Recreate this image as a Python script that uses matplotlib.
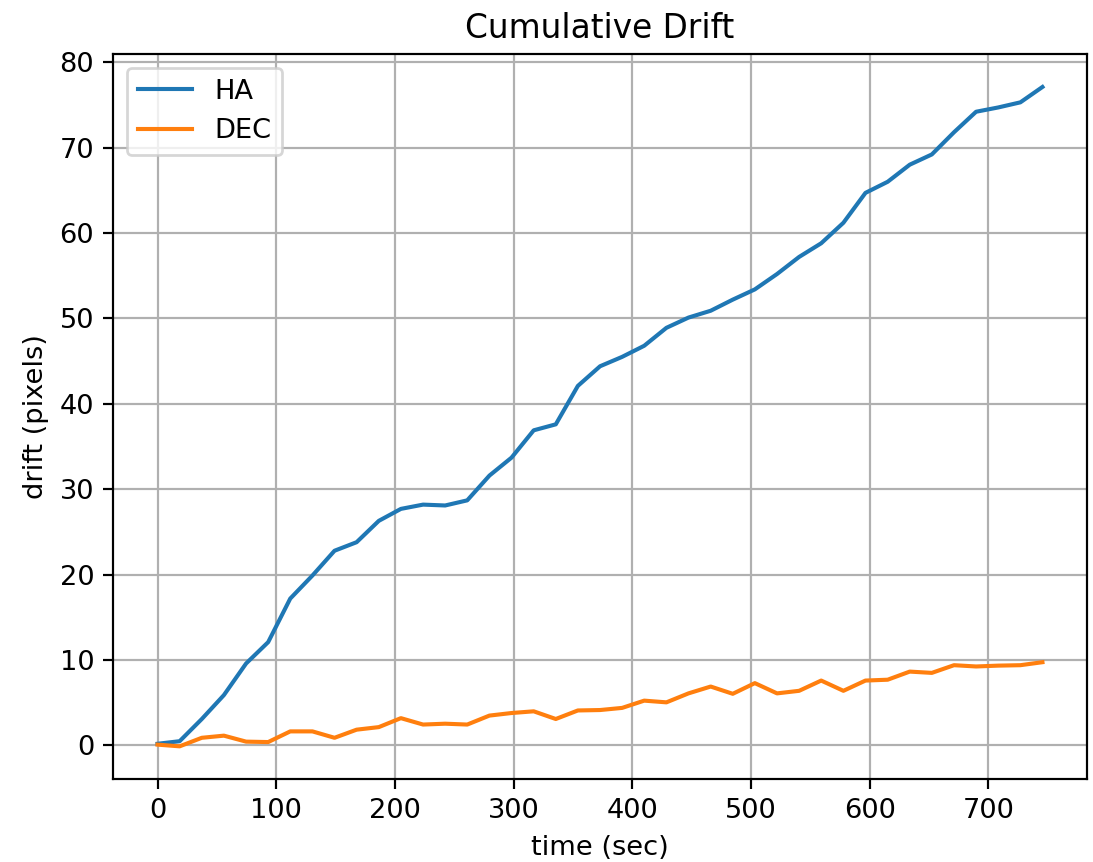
import matplotlib
matplotlib.use("Agg")
import matplotlib.pyplot as plt
import numpy as np

# sample times (sec)
time_sec = [0.0, 18.6, 37.3, 55.9, 74.6, 93.2, 111.8, 130.5, 149.1, 167.7,
            186.4, 205.0, 223.7, 242.3, 260.9, 279.6, 298.2, 316.9, 335.5, 354.1,
            372.8, 391.4, 410.0, 428.7, 447.3, 466.0, 484.6, 503.2, 521.9, 540.5,
            559.1, 577.8, 596.4, 615.1, 633.7, 652.3, 671.0, 689.6, 708.2, 726.9,
            745.5]

ha_drift = [0.2, 0.5, 3.1, 5.9, 9.6, 12.1, 17.2, 19.9, 22.8, 23.8,
            26.3, 27.7, 28.2, 28.1, 28.7, 31.6, 33.7, 36.9, 37.6, 42.1,
            44.4, 45.5, 46.8, 48.9, 50.1, 50.9, 52.2, 53.4, 55.2, 57.2,
            58.8, 61.2, 64.7, 66.0, 68.0, 69.2, 71.8, 74.2, 74.7, 75.3,
            77.1]

dec_drift = [0.1, -0.1, 0.9, 1.15, 0.45, 0.4, 1.65, 1.65, 0.9, 1.85,
             2.15, 3.2, 2.45, 2.55, 2.45, 3.5, 3.8, 4.0, 3.1, 4.1,
             4.15, 4.4, 5.25, 5.05, 6.1, 6.9, 6.05, 7.3, 6.1, 6.4,
             7.6, 6.4, 7.6, 7.7, 8.65, 8.5, 9.4, 9.25, 9.35, 9.4,
             9.75]

DPI = 196.6
fig = plt.figure(figsize=(1093 / DPI, 862 / DPI), dpi=DPI)
ax = fig.add_axes([113.3 / 1093, 1 - 779.3 / 862, (1086.7 - 113.3) / 1093, (779.3 - 54) / 862])

ax.plot(time_sec, ha_drift, label="HA")
ax.plot(time_sec, dec_drift, label="DEC")
ax.set_title("Cumulative Drift")
ax.set_xlabel("time (sec)")
ax.set_ylabel("drift (pixels)")
ax.grid(True)
ax.legend(loc="upper left")

fig.savefig("out.png", dpi=DPI)
